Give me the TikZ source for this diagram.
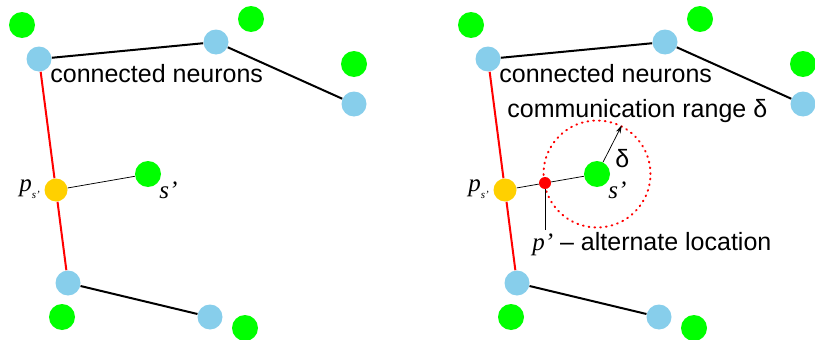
\documentclass[tikz,border=0pt]{standalone}
\usepackage{fontspec}
\setmainfont{Liberation Sans}
\newfontfamily\tmfont{Liberation Serif}
\usepackage{xcolor}
\usepackage{tikz}
\usetikzlibrary{arrows.meta}
\definecolor{neuronblue}{RGB}{135,206,235}
\definecolor{sensorgreen}{RGB}{0,255,0}
\definecolor{anchorgold}{RGB}{255,208,0}
\tikzset{every picture/.style={line width=0.75pt}}
\tikzset{
  neuron/.style={circle, fill=neuronblue, minimum size=25pt, inner sep=0pt},
  sensor/.style={circle, fill=sensorgreen, minimum size=26pt, inner sep=0pt},
  anchorpt/.style={circle, fill=anchorgold, minimum size=23pt, inner sep=0pt},
  link/.style={line width=2pt},
  redchain/.style={red, line width=2pt},
  lbl/.style={inner sep=0pt, font=\fontsize{25}{30}\selectfont},
  ital/.style={inner sep=0pt, font=\fontsize{25}{30}\selectfont\tmfont\itshape},
}

\begin{document}
\begin{tikzpicture}[x=1pt,y=1pt,yscale=-1,xscale=1]
    \useasboundingbox (0,0) rectangle (815,340);
    % both panels share the same network
    \foreach \dx/\pn in {0/L,449/R}{
      \begin{scope}[xshift=\dx]
        \node[sensor] (g1\pn) at (22,25) {};
        \node[sensor] (g2\pn) at (251,19) {};
        \node[sensor] (g3\pn) at (354,64) {};
        \node[sensor] (g4\pn) at (62,317) {};
        \node[sensor] (g5\pn) at (245,328) {};
        \node[neuron] (A\pn) at (39,59) {};
        \node[neuron] (B\pn) at (216,42) {};
        \node[neuron] (C\pn) at (354,104) {};
        \node[neuron] (D\pn) at (68,283) {};
        \node[neuron] (E\pn) at (210,317) {};
        \node[anchorpt] (P\pn) at (56,190) {};
        \node[sensor] (S\pn) at (148,174) {};
        \draw[link] (A\pn) -- (B\pn) -- (C\pn);
        \draw[link] (D\pn) -- (E\pn);
        \draw[redchain] (A\pn) -- (P\pn) -- (D\pn);
        \node[lbl, anchor=base west] (conn\pn) at (50,82) {connected neurons};
        \node[ital, anchor=base west] (plbl\pn) at (19,191) {p\raisebox{-7pt}{\fontsize{11}{12}\selectfont s’}};
        \node[ital, anchor=base west] (slbl\pn) at (159,198) {s’};
      \end{scope}
    }
    \draw (PL) -- (SL);
    % alternate location
    \node[circle, fill=red, minimum size=12pt, inner sep=0pt] (pp) at (545,183) {};
    \draw (PR) -- (pp) -- (SR);
    \node[circle, draw=red, minimum size=107pt, inner sep=0pt, line width=2pt, dash pattern=on 0.8pt off 5pt, line cap=round] (range) at (SR) {};
    \draw[-{Stealth[length=8pt,width=5pt]}] (SR.63) -- (range.63);
    \node[lbl, anchor=base west] (deltalbl) at (615,167) {δ};
    \node[lbl, anchor=base west] (commrange) at (507,117) {communication range δ};
    \coordinate (ppfoot) at (545,230);
    \draw (pp) -- (ppfoot);
    \node[lbl, anchor=base west] (altloc) at (532,250) {{\tmfont\itshape p’} – alternate location};
\end{tikzpicture}
\end{document}
